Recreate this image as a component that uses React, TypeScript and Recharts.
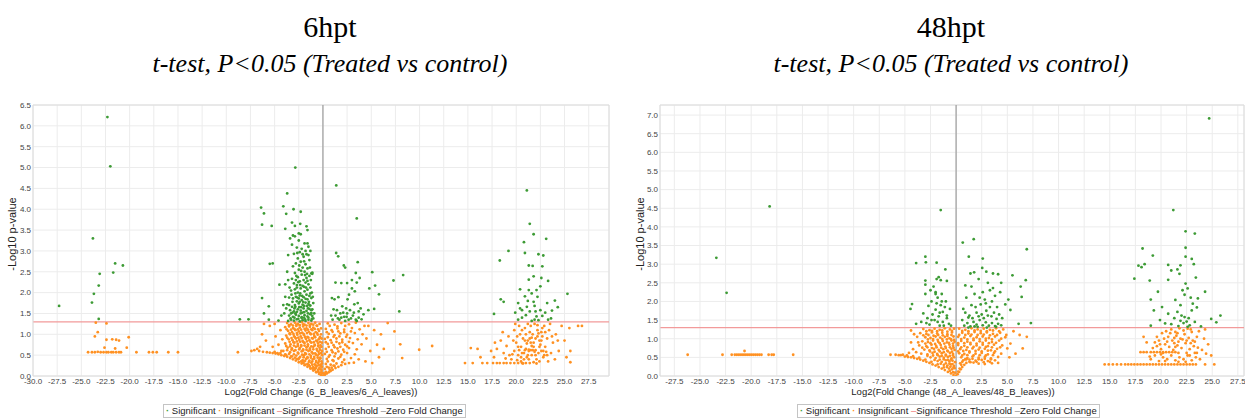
import React from 'react';
import { ScatterChart, Scatter, XAxis, YAxis, CartesianGrid, ReferenceLine } from 'recharts';

type Pt = [number, number];

// ---------- 6hpt ----------
const sig6Neg: Pt[] = [
  [-27.3, 1.68], [-23.8, 3.3], [-23.9, 1.76], [-23.7, 1.97], [-23.2, 2.17], [-23.1, 2.45], [-23.2, 1.37],
  [-22.3, 6.21], [-22.0, 5.03], [-21.7, 2.48], [-21.5, 2.7], [-20.7, 2.65],
];

const sig6Core: Pt[] = [
  [-2.86, 5.0], [-3.7, 4.38], [-6.4, 4.04], [-6.1, 3.9], [-4.1, 4.07], [-3.8, 3.89], [-3.04, 4.0], [-2.3, 3.94],
  [-6.3, 3.63], [-5.3, 3.6], [-3.9, 3.53], [-3.2, 3.68], [-2.9, 3.6], [-2.35, 3.65], [-1.7, 3.59], [-3.1, 3.37],
  [-2.5, 3.42], [-5.5, 2.69], [-5.2, 2.7], [-6.3, 1.87], [-5.6, 1.67], [-6.1, 1.5], [-4.5, 2.19], [-8.6, 1.36],
  [-7.7, 1.36], [-5.6, 1.35], [-4.6, 1.33], [-1.1, 2.48], [-1.6, 3.18],
  [-3.6, 1.32], [-3.3, 1.35], [-3.0, 1.33], [-2.7, 1.36], [-2.4, 1.31], [-2.1, 1.34], [-1.8, 1.32], [-1.5, 1.35],
  [-1.2, 1.33], [-1.0, 1.38], [-3.5, 1.45], [-3.1, 1.42], [-2.8, 1.47], [-2.5, 1.44], [-2.2, 1.41], [-1.9, 1.46],
  [-1.6, 1.43], [-1.3, 1.48], [-1.1, 1.44], [-4.0, 1.5], [-3.8, 1.62], [-3.4, 1.58], [-3.0, 1.55], [-2.6, 1.6],
  [-2.3, 1.57], [-2.0, 1.62], [-1.7, 1.56], [-1.4, 1.61], [-1.2, 1.58], [-3.2, 1.66], [-3.7, 1.72], [-2.9, 1.7],
  [-2.5, 1.74], [-2.1, 1.71], [-1.8, 1.76], [-1.5, 1.73], [-1.3, 1.69], [-2.7, 1.79], [-2.2, 1.82], [-1.6, 1.84],
  [-3.5, 1.88], [-3.1, 1.86], [-2.8, 1.9], [-2.4, 1.93], [-2.0, 1.89], [-1.7, 1.95], [-1.4, 1.92], [-1.2, 1.87],
  [-2.6, 2.0], [-1.9, 2.03], [-3.3, 2.05], [-2.9, 2.08], [-2.3, 2.1], [-1.6, 2.07], [-1.3, 2.12], [-2.1, 2.16],
  [-2.7, 2.18], [-3.0, 2.22], [-1.8, 2.24], [-1.5, 2.2], [-2.4, 2.27], [-2.0, 2.3], [-3.2, 2.33], [-2.6, 2.37],
  [-1.7, 2.35], [-1.4, 2.4], [-2.2, 2.43], [-2.9, 2.47], [-1.9, 2.5], [-1.2, 2.46], [-2.5, 2.55], [-2.1, 2.6],
  [-3.1, 2.63], [-1.6, 2.58], [-2.8, 2.7], [-2.3, 2.74], [-1.8, 2.68], [-1.4, 2.78], [-2.6, 2.82], [-2.0, 2.86],
  [-3.0, 2.93], [-2.4, 2.97], [-1.7, 2.92], [-2.2, 3.05], [-1.5, 3.1], [-2.7, 3.08], [-3.2, 3.15], [-1.9, 3.18],
  [-2.5, 3.25], [-2.9, 3.35], [-2.3, 3.4], [-1.6, 3.5], [-3.4, 3.3], [-3.6, 2.9], [-3.7, 2.5], [-3.9, 2.2],
  [-4.1, 1.7], [-4.3, 1.45], [-3.9, 1.9], [-3.6, 2.3], [-1.1, 1.6], [-1.0, 1.75], [-1.15, 2.0], [-1.05, 1.9],
  [-0.9, 1.5], [-1.25, 2.3], [-1.35, 2.6], [-1.1, 2.45], [-1.5, 2.9], [-1.3, 3.0], [-2.45, 1.65], [-2.85, 1.5],
  [-2.15, 1.52], [-1.95, 1.4], [-2.65, 1.88], [-2.35, 1.98], [-2.05, 1.78], [-1.75, 2.12], [-1.45, 1.78],
  [-2.75, 2.4], [-3.15, 1.78], [-3.45, 2.12], [-2.55, 2.25], [-1.85, 2.42], [-1.25, 1.5], [-1.55, 1.5],
  [-2.95, 1.62], [-3.3, 1.5], [-2.25, 1.65], [-1.65, 1.68],
  [-3.35, 1.38], [-2.95, 1.4], [-2.55, 1.37], [-2.2, 1.39], [-1.85, 1.36], [-1.5, 1.4], [-1.15, 1.37],
  [-3.15, 1.52], [-2.7, 1.54], [-2.3, 1.5], [-1.95, 1.53], [-1.55, 1.62], [-1.2, 1.51], [-3.5, 1.7],
  [-2.85, 1.66], [-2.4, 1.78], [-1.95, 1.68], [-1.4, 1.7], [-3.25, 1.95], [-2.85, 1.98], [-2.5, 1.86],
  [-2.15, 1.92], [-1.8, 1.85], [-1.3, 1.98], [-2.7, 2.12], [-2.35, 2.18], [-1.95, 2.14], [-1.6, 2.28],
  [-2.8, 2.3], [-2.25, 2.52], [-1.65, 2.45], [-2.45, 2.65], [-1.95, 2.75], [-2.65, 2.95], [-2.1, 2.92], [-1.8, 3.0],
];

const sig6Pos: Pt[] = [
  [1.38, 4.57], [3.5, 3.78], [1.37, 2.95], [1.58, 2.87], [2.16, 2.65], [2.3, 2.6], [3.6, 2.73], [5.1, 2.49],
  [3.4, 2.47], [3.8, 2.35], [3.5, 2.24], [7.3, 2.29], [8.3, 2.42], [1.3, 2.24], [1.9, 2.23], [2.5, 2.23],
  [3.0, 2.3], [5.4, 2.17], [4.8, 2.1], [5.8, 1.96], [0.93, 1.87], [1.2, 1.84], [1.6, 1.89], [2.55, 1.84],
  [3.3, 2.03], [3.6, 1.75], [2.0, 1.67], [2.4, 1.62], [2.8, 1.58], [3.2, 1.52], [3.7, 1.55], [4.7, 1.58],
  [5.3, 1.61], [7.9, 1.55], [1.45, 1.58], [1.8, 1.5], [2.2, 1.42], [2.66, 1.35], [1.0, 1.35], [1.3, 1.45],
  [1.9, 1.4], [2.5, 1.5], [2.9, 1.38], [3.1, 1.45], [3.4, 1.35], [3.7, 1.4], [1.1, 1.6], [3.9, 1.62],
  [1.7, 1.35], [2.3, 1.32], [3.5, 1.32], [4.2, 1.48], [2.7, 1.95], [3.0, 2.1], [2.1, 1.52], [2.45, 1.42],
  [1.55, 1.38], [3.25, 1.72], [0.85, 1.45], [4.0, 1.36],
];

const sig6High: Pt[] = [
  [21.1, 4.45], [21.4, 3.65], [21.8, 3.4], [23.1, 3.29], [20.8, 3.21], [19.2, 3.0], [18.3, 2.77], [20.9, 2.95],
  [22.3, 2.92], [22.8, 2.89], [21.3, 2.65], [21.7, 2.64], [22.7, 2.63], [21.8, 2.39], [21.3, 2.31], [22.6, 2.35],
  [23.3, 2.28], [20.4, 2.08], [22.5, 2.15], [25.3, 1.97], [18.4, 1.84], [18.7, 1.78], [17.7, 1.49], [20.2, 1.75],
  [20.6, 1.58], [21.8, 1.78], [22.2, 1.9], [23.2, 1.75], [23.7, 1.57], [24.3, 1.65], [24.0, 1.81], [19.9, 1.52],
  [21.4, 1.55], [22.1, 1.43], [21.9, 1.35], [22.3, 1.34], [20.2, 1.35], [23.3, 1.35], [21.1, 1.66], [21.6, 1.98],
  [22.1, 2.06], [21.3, 2.06], [20.9, 1.91], [22.5, 1.58], [21.9, 1.68], [20.6, 1.4], [21.0, 1.46], [22.7, 1.44],
  [23.0, 1.52], [21.6, 1.32], [22.0, 1.55], [23.6, 1.38], [20.4, 1.62], [21.2, 1.8],
];

const ins6Neg: Pt[] = [
  [-23.5, 1.28], [-22.4, 1.26], [-23.3, 1.05], [-23.6, 0.95], [-22.4, 0.87], [-21.8, 0.88], [-21.4, 0.87],
  [-21.1, 0.85], [-20.1, 0.93], [-21.5, 0.66], [-20.3, 0.68], [-22.6, 0.68],
  [-24.3, 0.57], [-23.9, 0.57], [-23.6, 0.57], [-23.3, 0.58], [-23.0, 0.57], [-22.7, 0.57], [-22.4, 0.57],
  [-22.2, 0.57], [-21.9, 0.57], [-21.7, 0.57], [-21.4, 0.57], [-21.1, 0.57], [-20.9, 0.57], [-19.3, 0.57],
  [-18.0, 0.57], [-17.6, 0.57], [-17.2, 0.57], [-16.0, 0.57], [-15.0, 0.57], [-8.8, 0.57],
];

const ins6Env: Pt[] = [
  [-7.4, 0.6], [-7.1, 0.62], [-6.6, 0.6], [-6.2, 0.58], [-5.8, 0.57], [-5.5, 0.56], [-5.2, 0.55], [-4.9, 0.54],
  [-4.6, 0.52], [-4.3, 0.5], [-4.0, 0.48], [-3.7, 0.46], [-3.4, 0.43], [-3.1, 0.4], [-2.8, 0.37], [-2.5, 0.33],
  [-2.2, 0.3], [-1.9, 0.26], [-1.6, 0.22], [-1.3, 0.18], [-1.0, 0.13], [-0.7, 0.09], [-0.4, 0.05], [-0.2, 0.02],
  [0, 0], [0.2, 0.03], [0.4, 0.06], [0.6, 0.09], [0.8, 0.12], [1.0, 0.15], [1.3, 0.19], [1.6, 0.22], [1.9, 0.26],
  [2.3, 0.29], [2.7, 0.31], [3.2, 0.32], [-5.0, 0.58], [-4.4, 0.55], [-3.9, 0.52], [-3.3, 0.47], [-2.7, 0.41],
  [-2.1, 0.34], [-1.5, 0.27], [-0.9, 0.18], [-0.5, 0.1], [0.3, 0.08], [0.7, 0.15], [1.2, 0.24],
];

const ins6CoreNeg: Pt[] = [
  [-3.7, 1.27], [-3.3, 1.24], [-2.9, 1.28], [-2.6, 1.25], [-2.2, 1.29], [-1.9, 1.23], [-1.5, 1.27], [-1.2, 1.25],
  [-0.8, 1.28], [-3.9, 1.17], [-3.5, 1.19], [-3.1, 1.15], [-2.75, 1.2], [-2.4, 1.16], [-2.05, 1.19], [-1.7, 1.14],
  [-1.35, 1.18], [-1.0, 1.16], [-0.6, 1.2], [-3.6, 1.08], [-3.2, 1.05], [-2.85, 1.1], [-2.5, 1.07], [-2.15, 1.04],
  [-1.8, 1.09], [-1.45, 1.06], [-1.1, 1.1], [-0.75, 1.05], [-0.4, 1.08], [-3.8, 0.97], [-3.4, 1.0], [-3.0, 0.96],
  [-2.65, 0.99], [-2.3, 0.95], [-1.95, 0.98], [-1.6, 0.94], [-1.25, 1.0], [-0.9, 0.96], [-0.55, 0.99], [-0.3, 0.94],
  [-3.55, 0.88], [-3.15, 0.86], [-2.8, 0.9], [-2.45, 0.87], [-2.1, 0.84], [-1.75, 0.89], [-1.4, 0.86], [-1.05, 0.9],
  [-0.7, 0.85], [-0.45, 0.88], [-3.9, 0.78], [-3.35, 0.76], [-2.95, 0.8], [-2.6, 0.77], [-2.25, 0.74], [-1.9, 0.79],
  [-1.55, 0.76], [-1.2, 0.8], [-0.85, 0.75], [-0.5, 0.78], [-0.25, 0.74], [-3.65, 0.68], [-3.2, 0.66], [-2.8, 0.7],
  [-2.4, 0.67], [-2.05, 0.64], [-1.7, 0.69], [-1.35, 0.66], [-1.0, 0.7], [-0.65, 0.65], [-0.35, 0.68], [-4.1, 0.6],
  [-3.4, 0.57], [-3.0, 0.6], [-2.6, 0.56], [-2.2, 0.59], [-1.85, 0.55], [-1.5, 0.6], [-1.15, 0.57], [-0.8, 0.54],
  [-0.45, 0.58], [-0.2, 0.55], [-3.8, 0.5], [-3.2, 0.47], [-2.75, 0.49], [-2.35, 0.46], [-1.95, 0.5], [-1.6, 0.45],
  [-1.25, 0.48], [-0.9, 0.46], [-0.55, 0.49], [-0.3, 0.44], [-2.55, 0.4], [-2.1, 0.38], [-1.75, 0.41], [-1.4, 0.37],
  [-1.05, 0.4], [-0.7, 0.36], [-0.4, 0.39], [-0.15, 0.35], [-2.0, 0.31], [-1.6, 0.29], [-1.2, 0.32], [-0.85, 0.28],
  [-0.5, 0.31], [-0.25, 0.27], [-1.35, 0.23], [-1.0, 0.21], [-0.65, 0.24], [-0.35, 0.2], [-0.1, 0.22], [-0.85, 0.15],
  [-0.5, 0.14], [-0.2, 0.16], [-0.3, 0.08], [-0.1, 0.07],
  [-4.4, 1.1], [-4.6, 0.75], [-4.9, 0.95], [-5.2, 0.7], [-5.5, 1.2], [-5.9, 0.85], [-6.3, 1.0], [-6.8, 0.65],
  [-6.5, 0.7], [-4.3, 0.6], [-5.0, 1.25], [-6.1, 1.25], [-4.7, 0.55], [-4.2, 0.88],
];

const ins6Dense: Pt[] = [
  [-3.5, 1.22], [-3.1, 1.21], [-2.75, 1.23], [-2.4, 1.22], [-2.05, 1.24], [-1.7, 1.21], [-1.35, 1.22], [-1.0, 1.23],
  [-0.65, 1.21], [-0.35, 1.25], [-3.75, 1.12], [-3.3, 1.11], [-2.95, 1.13], [-2.6, 1.12], [-2.25, 1.11], [-1.9, 1.13],
  [-1.55, 1.11], [-1.2, 1.12], [-0.85, 1.13], [-0.5, 1.12], [-0.2, 1.14], [-3.45, 1.02], [-3.05, 1.01], [-2.7, 1.03],
  [-2.35, 1.02], [-2.0, 1.01], [-1.65, 1.03], [-1.3, 1.02], [-0.95, 1.01], [-0.6, 1.03], [-0.2, 1.0], [-3.7, 0.92],
  [-3.25, 0.91], [-2.9, 0.93], [-2.55, 0.92], [-2.2, 0.91], [-1.85, 0.93], [-1.5, 0.92], [-1.15, 0.91], [-0.8, 0.93],
  [-0.35, 0.91], [-0.15, 0.9], [-3.45, 0.82], [-3.05, 0.81], [-2.7, 0.83], [-2.35, 0.82], [-2.0, 0.81], [-1.65, 0.83],
  [-1.3, 0.82], [-0.95, 0.81], [-0.6, 0.83], [-0.3, 0.82], [-0.1, 0.8], [-3.8, 0.72], [-3.4, 0.71], [-3.0, 0.73],
  [-2.6, 0.72], [-2.25, 0.71], [-1.9, 0.73], [-1.55, 0.72], [-1.2, 0.71], [-0.85, 0.73], [-0.5, 0.72], [-0.15, 0.7],
  [-3.7, 0.62], [-3.25, 0.63], [-2.85, 0.62], [-2.45, 0.64], [-2.05, 0.61], [-1.7, 0.63], [-1.35, 0.62], [-1.0, 0.64],
  [-0.6, 0.61], [-0.3, 0.63], [-0.1, 0.6], [-3.5, 0.53], [-3.0, 0.52], [-2.55, 0.54], [-2.15, 0.51], [-1.75, 0.53],
  [-1.4, 0.52], [-1.05, 0.54], [-0.7, 0.51], [-0.4, 0.53], [-0.1, 0.5], [-2.9, 0.44], [-2.45, 0.43], [-2.0, 0.45],
  [-1.6, 0.43], [-1.25, 0.44], [-0.9, 0.42], [-0.55, 0.44], [-0.25, 0.42], [-2.25, 0.35], [-1.85, 0.36], [-1.45, 0.34],
  [-1.1, 0.35], [-0.7, 0.33], [-0.4, 0.35], [-0.1, 0.3], [-1.8, 0.27], [-1.45, 0.26], [-1.1, 0.27], [-0.75, 0.25],
  [-0.45, 0.26], [-0.2, 0.24], [-1.1, 0.18], [-0.7, 0.19], [-0.4, 0.17], [-0.15, 0.12],
  [0.7, 1.2], [1.5, 1.19], [2.3, 1.2], [0.4, 1.05], [1.0, 1.06], [1.6, 1.07], [2.2, 1.05], [2.9, 1.07],
  [0.5, 0.93], [1.1, 0.94], [1.7, 0.95], [2.4, 0.94], [0.3, 0.81], [0.9, 0.8], [1.4, 0.82], [2.0, 0.81],
  [2.7, 0.82], [0.6, 0.7], [1.2, 0.69], [1.8, 0.7], [2.5, 0.71], [0.4, 0.58], [1.0, 0.57], [1.6, 0.59],
  [2.2, 0.58], [0.6, 0.46], [1.2, 0.47], [1.8, 0.46], [0.5, 0.35], [1.1, 0.36], [0.4, 0.22], [0.9, 0.2],
];

const ins6CorePos: Pt[] = [
  [0.5, 1.26], [1.2, 1.23], [1.9, 1.27], [2.7, 1.24], [3.4, 1.28], [0.3, 1.13], [0.9, 1.1], [1.5, 1.14],
  [2.2, 1.11], [3.0, 1.15], [3.8, 1.12], [0.6, 1.01], [1.2, 0.98], [1.8, 1.02], [2.5, 0.99], [3.3, 1.03],
  [4.1, 1.0], [0.2, 0.89], [0.8, 0.86], [1.4, 0.9], [2.0, 0.87], [2.8, 0.91], [3.6, 0.88], [0.5, 0.77],
  [1.1, 0.74], [1.7, 0.78], [2.3, 0.75], [3.1, 0.79], [4.0, 0.76], [0.3, 0.65], [0.9, 0.62], [1.5, 0.66],
  [2.1, 0.63], [2.7, 0.67], [3.5, 0.64], [0.2, 0.53], [0.7, 0.5], [1.3, 0.54], [1.9, 0.51], [2.5, 0.55],
  [3.3, 0.52], [0.4, 0.41], [1.0, 0.38], [1.6, 0.42], [2.2, 0.39], [2.9, 0.43], [0.3, 0.29], [0.8, 0.27],
  [1.4, 0.3], [2.0, 0.33], [0.2, 0.17], [0.6, 0.2], [1.1, 0.25], [0.1, 0.06], [0.3, 0.1],
  [4.5, 0.9], [4.9, 0.6], [5.3, 1.1], [5.6, 0.75], [6.0, 1.0], [4.3, 1.2], [5.1, 0.31], [6.7, 1.27],
  [7.4, 1.07], [8.0, 0.76], [8.2, 0.43], [9.96, 0.63], [11.3, 0.72], [6.3, 0.65], [4.7, 1.2], [3.7, 0.4],
  [4.4, 0.35], [5.8, 0.45],
];

const ins6High: Pt[] = [
  [14.7, 0.31], [15.5, 0.31], [16.5, 0.31], [17.0, 0.31], [17.6, 0.31], [18.0, 0.31], [18.3, 0.31], [18.7, 0.31],
  [19.0, 0.31], [19.4, 0.31], [19.8, 0.31], [20.2, 0.31], [20.6, 0.31], [21.0, 0.31], [21.4, 0.31], [23.3, 0.35],
  [25.6, 0.33], [15.3, 0.67], [16.0, 0.65], [17.4, 0.6], [18.0, 0.65], [17.8, 0.8], [18.4, 0.85], [19.0, 0.72],
  [19.2, 0.95], [18.6, 1.05], [19.8, 1.1], [20.2, 0.5], [20.5, 0.7], [20.7, 0.9], [20.9, 1.15], [21.1, 0.45],
  [21.3, 0.6], [21.5, 0.8], [21.7, 1.0], [21.9, 1.25], [22.1, 0.4], [22.3, 0.55], [22.5, 0.75], [22.7, 0.95],
  [22.9, 1.2], [20.4, 1.0], [20.6, 0.55], [20.8, 0.4], [21.0, 0.65], [21.2, 0.85], [21.4, 1.05], [21.6, 0.5],
  [21.8, 0.7], [22.0, 0.9], [22.2, 1.1], [22.4, 0.35], [22.6, 0.6], [22.8, 0.45], [23.0, 0.7], [23.2, 0.9],
  [23.4, 1.1], [23.6, 0.55], [23.8, 0.8], [24.1, 1.0], [24.4, 0.6], [24.7, 1.2], [25.0, 0.85], [25.2, 0.45],
  [25.5, 1.15], [26.4, 1.2], [26.8, 1.2], [19.5, 0.4], [19.8, 0.6], [20.0, 0.8], [20.3, 1.2], [21.7, 0.62],
  [22.0, 0.62], [21.3, 0.63], [21.5, 0.62], [20.9, 0.62], [23.5, 1.25], [24.0, 0.4], [25.6, 0.6], [21.2, 1.25],
  [22.2, 1.22], [20.1, 0.38], [20.5, 0.45], [22.9, 0.5], [19.3, 0.5], [18.7, 0.55], [17.7, 0.45], [16.3, 0.45],
  [20.7, 0.3], [21.8, 0.33], [22.4, 0.85], [21.1, 0.78], [20.3, 0.62], [23.1, 0.58], [21.6, 0.92], [22.6, 1.05],
  [19.7, 0.85], [20.1, 0.95], [20.6, 1.1], [21.0, 1.0], [21.4, 0.9], [21.8, 0.8], [22.2, 0.95], [22.6, 0.85],
  [23.0, 1.05], [20.2, 0.7], [20.8, 0.55], [21.2, 0.5], [21.6, 0.72], [22.0, 0.5], [22.4, 0.7], [22.8, 0.6],
  [23.2, 0.5], [20.5, 0.35], [21.3, 0.4], [22.1, 0.3], [19.9, 1.25], [21.5, 1.2], [22.7, 1.15], [23.7, 0.95],
  [24.3, 0.85], [18.9, 0.42], [19.6, 0.52], [21.9, 0.58], [20.9, 0.85], [22.3, 1.02],
];

// ---------- 48hpt ----------
const sig48Neg: Pt[] = [[-23.4, 3.17], [-22.4, 2.23], [-18.2, 4.55]];

const sig48Core: Pt[] = [
  [-1.5, 4.45], [-3.9, 3.03], [-3.0, 3.2], [-2.95, 3.05], [-1.9, 3.04], [-3.0, 2.56], [-3.0, 2.45], [-1.9, 2.6],
  [-1.7, 2.65], [-3.0, 2.2], [-2.0, 2.2], [-1.8, 2.1], [-4.3, 1.93], [-4.45, 1.8], [-2.7, 1.88], [-2.4, 2.0],
  [-1.9, 1.95], [-2.4, 1.5], [-2.1, 1.5], [-3.9, 1.4], [-3.4, 1.45], [-1.7, 1.6], [-1.6, 1.7], [-1.05, 2.86],
  [-1.5, 2.57], [-0.9, 2.55], [-2.0, 2.25], [-1.4, 2.2], [-1.4, 2.0], [-1.0, 2.0], [-1.3, 1.72], [-0.9, 1.62],
  [-1.8, 1.45], [-1.3, 1.45], [-0.9, 1.55], [-2.6, 1.38], [-2.3, 1.65], [-2.0, 1.78], [-1.2, 1.35], [-0.7, 1.4],
  [-1.6, 1.35], [-2.8, 1.55], [-3.2, 1.68], [-1.1, 1.85], [-0.6, 1.8], [-2.2, 2.4], [-2.5, 2.3], [-1.5, 1.9],
  [-2.9, 1.42], [-0.5, 1.35],
];

const sig48Pos: Pt[] = [
  [0.65, 3.58], [1.72, 3.67], [1.24, 3.2], [6.9, 3.4], [2.6, 3.15], [1.76, 2.78], [2.55, 2.9], [2.95, 2.8],
  [3.6, 2.75], [4.1, 2.73], [5.5, 2.7], [6.8, 2.57], [0.9, 2.43], [1.5, 2.4], [3.3, 2.3], [3.6, 2.36],
  [4.4, 2.5], [6.3, 2.4], [6.4, 2.12], [5.1, 2.05], [5.3, 1.77], [1.8, 2.2], [2.3, 2.1], [2.8, 2.05],
  [3.8, 2.15], [1.0, 2.1], [4.8, 1.92], [6.1, 1.4], [7.3, 1.42], [2.0, 1.7], [2.5, 1.65], [2.95, 1.75],
  [3.45, 1.6], [3.95, 1.53], [1.2, 1.57], [0.6, 1.5], [0.8, 1.35], [1.1, 1.42], [1.4, 1.33], [1.7, 1.45],
  [2.0, 1.38], [2.3, 1.5], [2.6, 1.36], [2.9, 1.44], [3.2, 1.35], [3.5, 1.42], [3.8, 1.34], [4.1, 1.4],
  [4.4, 1.36], [1.3, 1.62], [1.6, 1.55], [1.9, 1.85], [2.2, 1.6], [2.7, 1.55], [3.1, 1.62], [3.3, 1.85],
  [3.7, 1.7], [4.2, 1.65], [0.9, 1.7], [1.5, 1.9], [2.4, 1.92], [2.9, 1.95], [3.5, 2.0], [4.0, 1.85],
  [4.5, 1.55], [1.2, 1.3], [2.1, 1.32], [3.0, 1.3], [0.7, 1.8], [2.6, 2.25], [3.1, 2.5], [2.2, 2.6],
  [1.4, 2.75], [4.3, 2.25], [3.9, 1.32], [1.8, 1.33],
];

const sig48High: Pt[] = [
  [24.7, 6.91], [21.2, 4.45], [22.4, 3.88], [23.3, 3.82], [22.4, 3.44], [18.2, 3.42], [19.2, 3.23], [17.8, 2.96],
  [18.1, 2.92], [18.4, 3.0], [17.4, 2.61], [18.9, 2.56], [20.7, 2.98], [21.0, 2.83], [21.6, 2.86], [21.9, 2.97],
  [22.4, 3.2], [23.0, 3.14], [23.2, 3.0], [23.4, 2.64], [21.8, 2.74], [20.7, 2.58], [22.4, 2.48], [22.6, 2.35],
  [22.1, 2.3], [19.7, 2.26], [24.3, 2.26], [19.0, 2.05], [21.4, 2.04], [21.9, 1.9], [23.1, 1.94], [23.6, 2.08],
  [19.3, 1.76], [20.1, 1.85], [20.7, 1.67], [21.6, 1.72], [22.3, 1.58], [23.0, 1.76], [23.5, 1.84], [24.9, 1.53],
  [25.4, 1.44], [25.8, 1.62], [19.0, 1.35], [20.4, 1.41], [21.0, 1.39], [21.9, 1.48], [22.2, 1.42], [22.5, 1.46],
  [22.8, 1.36], [23.9, 1.33], [19.9, 1.5], [21.7, 1.34], [22.7, 1.55], [22.0, 1.62], [22.9, 2.1], [22.3, 2.18],
  [21.3, 1.55], [23.3, 1.45], [22.6, 1.32],
];

const ins48Neg: Pt[] = [
  [-26.2, 0.57], [-22.8, 0.57], [-21.9, 0.57], [-21.6, 0.57], [-21.4, 0.57], [-21.2, 0.57], [-21.0, 0.57],
  [-20.8, 0.57], [-20.6, 0.57], [-20.4, 0.57], [-20.2, 0.57], [-20.0, 0.57], [-19.8, 0.57], [-19.6, 0.57],
  [-19.4, 0.57], [-19.2, 0.57], [-19.0, 0.57], [-18.3, 0.57], [-18.0, 0.57], [-17.8, 0.57], [-15.9, 0.57],
  [-20.65, 0.67],
];

const ins48Env: Pt[] = [
  [-6.4, 0.57], [-5.9, 0.57], [-5.6, 0.56], [-5.4, 0.56], [-5.2, 0.57], [-5.0, 0.52], [-4.7, 0.51], [-4.4, 0.5],
  [-4.1, 0.48], [-3.8, 0.46], [-3.5, 0.44], [-3.2, 0.41], [-2.9, 0.38], [-2.6, 0.35], [-2.3, 0.31], [-2.0, 0.28],
  [-1.7, 0.24], [-1.4, 0.2], [-1.1, 0.16], [-0.8, 0.11], [-0.5, 0.07], [-0.25, 0.03], [0, 0], [0.15, 0.05],
  [0.3, 0.11], [0.45, 0.18], [0.6, 0.24], [0.8, 0.3], [1.0, 0.35], [1.3, 0.38], [1.7, 0.36], [2.2, 0.33],
  [2.8, 0.32], [3.5, 0.34], [4.1, 0.35], [-4.8, 0.55], [-4.2, 0.53], [-3.6, 0.49], [-3.0, 0.44], [-2.4, 0.38],
  [-1.8, 0.31], [-1.2, 0.23], [-0.6, 0.14], [0.2, 0.12], [0.5, 0.3], [0.9, 0.45],
];

const ins48CoreNeg: Pt[] = [
  [-3.2, 1.26], [-2.6, 1.23], [-2.1, 1.27], [-1.6, 1.24], [-1.1, 1.28], [-0.6, 1.25], [-0.2, 1.27],
  [-3.5, 1.15], [-2.9, 1.13], [-2.35, 1.17], [-1.85, 1.14], [-1.35, 1.16], [-0.85, 1.12], [-0.4, 1.17],
  [-3.0, 1.04], [-2.5, 1.02], [-2.0, 1.06], [-1.55, 1.03], [-1.1, 1.05], [-0.65, 1.01], [-0.25, 1.06],
  [-3.3, 0.93], [-2.75, 0.91], [-2.25, 0.95], [-1.75, 0.92], [-1.3, 0.94], [-0.9, 0.9], [-0.45, 0.95], [-0.15, 0.92],
  [-3.6, 0.82], [-2.9, 0.8], [-2.4, 0.84], [-1.95, 0.81], [-1.5, 0.83], [-1.05, 0.79], [-0.65, 0.84], [-0.3, 0.81],
  [-3.1, 0.71], [-2.6, 0.69], [-2.15, 0.73], [-1.7, 0.7], [-1.25, 0.72], [-0.85, 0.68], [-0.45, 0.73], [-0.15, 0.7],
  [-3.4, 0.6], [-2.8, 0.58], [-2.3, 0.62], [-1.85, 0.59], [-1.4, 0.61], [-1.0, 0.57], [-0.6, 0.62], [-0.3, 0.59],
  [-2.5, 0.5], [-2.0, 0.48], [-1.6, 0.52], [-1.2, 0.49], [-0.8, 0.51], [-0.45, 0.47], [-0.2, 0.5],
  [-1.8, 0.4], [-1.4, 0.38], [-1.0, 0.42], [-0.65, 0.39], [-0.35, 0.41], [-0.1, 0.37],
  [-1.2, 0.3], [-0.85, 0.28], [-0.5, 0.31], [-0.2, 0.27], [-0.7, 0.2], [-0.4, 0.18], [-0.15, 0.21],
  [-0.3, 0.1], [-0.1, 0.09],
  [-4.4, 1.22], [-4.1, 1.12], [-3.8, 1.05], [-4.2, 0.72], [-3.9, 0.64], [-4.6, 0.62], [-4.4, 0.9], [-3.7, 0.9],
];

const ins48Dense: Pt[] = [
  [-2.9, 1.2], [-2.35, 1.21], [-1.85, 1.2], [-1.35, 1.22], [-0.85, 1.19], [-0.4, 1.21], [-3.2, 1.09], [-2.7, 1.1],
  [-2.2, 1.08], [-1.75, 1.1], [-1.3, 1.09], [-0.85, 1.07], [-0.45, 1.1], [-2.75, 0.98], [-2.25, 0.99], [-1.8, 0.97],
  [-1.35, 0.99], [-0.9, 0.98], [-0.5, 0.99], [-0.2, 0.97], [-3.0, 0.87], [-2.5, 0.88], [-2.05, 0.86], [-1.6, 0.88],
  [-1.15, 0.87], [-0.7, 0.89], [-0.3, 0.87], [-3.3, 0.76], [-2.8, 0.77], [-2.35, 0.75], [-1.9, 0.77], [-1.45, 0.76],
  [-1.0, 0.75], [-0.6, 0.77], [-0.25, 0.76], [-2.55, 0.66], [-2.1, 0.65], [-1.6, 0.66], [-1.2, 0.64], [-0.8, 0.66],
  [-0.4, 0.65], [-2.8, 0.54], [-2.25, 0.55], [-1.8, 0.56], [-1.4, 0.54], [-1.0, 0.55], [-0.6, 0.54], [-0.3, 0.55],
  [-2.1, 0.43], [-1.6, 0.44], [-1.2, 0.45], [-0.8, 0.43], [-0.5, 0.44], [-1.5, 0.33], [-1.0, 0.34], [-0.65, 0.33],
  [-0.35, 0.32], [-0.9, 0.24], [-0.55, 0.25], [-0.25, 0.23],
  [0.6, 1.21], [1.2, 1.2], [1.8, 1.22], [2.4, 1.21], [3.0, 1.2], [3.6, 1.22], [4.2, 1.2], [0.3, 1.1],
  [0.9, 1.1], [1.5, 1.11], [2.1, 1.1], [2.7, 1.11], [3.3, 1.09], [4.0, 1.1], [0.5, 0.99], [1.1, 0.98],
  [1.7, 1.0], [2.3, 0.99], [2.9, 1.0], [3.5, 0.98], [4.4, 1.0], [0.2, 0.88], [0.8, 0.88], [1.4, 0.89],
  [2.0, 0.87], [2.6, 0.89], [3.2, 0.88], [3.9, 0.89], [0.5, 0.77], [1.1, 0.77], [1.7, 0.78], [2.3, 0.76],
  [2.9, 0.78], [3.5, 0.77], [4.3, 0.77], [0.2, 0.66], [0.7, 0.67], [1.3, 0.66], [1.9, 0.67], [2.5, 0.66],
  [3.1, 0.68], [3.8, 0.66], [0.6, 0.55], [1.1, 0.56], [1.7, 0.55], [2.3, 0.56], [2.9, 0.55], [3.6, 0.56],
  [1.0, 0.45], [1.6, 0.46], [2.2, 0.45], [2.8, 0.46], [3.4, 0.45], [1.4, 0.37], [2.0, 0.38], [2.7, 0.37],
  [3.3, 0.38], [0.6, 0.38], [0.35, 0.2],
];

const ins48CorePos: Pt[] = [
  [0.3, 1.27], [0.9, 1.24], [1.5, 1.28], [2.1, 1.25], [2.7, 1.27], [3.3, 1.24], [3.9, 1.28], [4.6, 1.25],
  [0.6, 1.16], [1.2, 1.14], [1.8, 1.18], [2.4, 1.15], [3.0, 1.17], [3.6, 1.13], [4.3, 1.16],
  [0.2, 1.05], [0.8, 1.03], [1.4, 1.07], [2.0, 1.04], [2.6, 1.06], [3.2, 1.02], [3.8, 1.06], [4.8, 1.04],
  [0.5, 0.94], [1.1, 0.92], [1.7, 0.96], [2.3, 0.93], [2.9, 0.95], [3.5, 0.91], [4.2, 0.95],
  [0.2, 0.83], [0.8, 0.81], [1.4, 0.85], [2.0, 0.82], [2.6, 0.84], [3.1, 0.8], [3.7, 0.84], [4.5, 0.82],
  [0.4, 0.72], [1.0, 0.7], [1.6, 0.74], [2.2, 0.71], [2.8, 0.73], [3.4, 0.69], [4.0, 0.73],
  [0.3, 0.61], [0.8, 0.59], [1.3, 0.63], [1.9, 0.6], [2.5, 0.62], [3.1, 0.58], [3.7, 0.62], [4.4, 0.6],
  [0.5, 0.5], [1.1, 0.48], [1.6, 0.52], [2.2, 0.49], [2.8, 0.51], [3.4, 0.47], [4.1, 0.51],
  [0.7, 0.42], [1.3, 0.44], [1.9, 0.41], [2.5, 0.43], [3.1, 0.4], [3.8, 0.42], [0.4, 0.34],
  [5.0, 0.74], [5.3, 0.87], [6.2, 1.1], [6.9, 1.05], [6.5, 0.74], [5.6, 1.2], [5.2, 0.5], [4.9, 1.1], [5.8, 0.6],
];

const ins48High: Pt[] = [
  [14.5, 0.31], [14.9, 0.31], [15.3, 0.31], [15.7, 0.31], [16.1, 0.31], [16.5, 0.31], [16.8, 0.31], [17.1, 0.31],
  [17.4, 0.31], [17.7, 0.31], [18.0, 0.31], [18.3, 0.31], [18.6, 0.31], [18.9, 0.31], [19.2, 0.31], [19.5, 0.31],
  [19.8, 0.31], [20.1, 0.31], [20.4, 0.31], [20.7, 0.31], [21.0, 0.31], [21.3, 0.31], [21.6, 0.31], [21.9, 0.31],
  [22.2, 0.31], [22.5, 0.31], [22.8, 0.31], [23.1, 0.31], [23.4, 0.31], [24.3, 0.31], [25.2, 0.31],
  [18.0, 0.64], [18.3, 0.64], [18.6, 0.64], [19.0, 0.64], [19.3, 0.64], [19.6, 0.64], [19.9, 0.64], [20.2, 0.64],
  [20.5, 0.64], [20.8, 0.64], [21.1, 0.64], [21.4, 0.64],
  [19.0, 0.45], [19.4, 0.55], [19.8, 0.4], [20.2, 0.5], [20.6, 0.45], [21.0, 0.55], [21.4, 0.42], [21.8, 0.5],
  [22.2, 0.45], [22.6, 0.55], [23.0, 0.42], [23.4, 0.5], [23.8, 0.45], [19.2, 0.75], [19.6, 0.8], [20.0, 0.72],
  [20.4, 0.85], [20.8, 0.78], [21.2, 0.7], [21.6, 0.82], [22.0, 0.75], [22.4, 0.88], [22.8, 0.72], [23.2, 0.8],
  [23.6, 0.76], [24.0, 0.7], [19.8, 0.95], [20.3, 1.0], [20.7, 1.05], [21.1, 0.95], [21.5, 1.08], [21.9, 1.0],
  [22.3, 1.12], [22.7, 1.02], [23.1, 0.95], [23.5, 1.05], [24.2, 1.0], [20.5, 1.2], [21.0, 1.25], [21.4, 1.18],
  [21.8, 1.28], [22.2, 1.22], [22.6, 1.27], [23.0, 1.18], [20.1, 1.15], [18.6, 0.9], [18.3, 1.05], [24.6, 0.85],
  [24.3, 1.25], [24.9, 0.55], [18.9, 0.52], [21.3, 0.88], [22.5, 0.62], [23.3, 0.62], [21.7, 0.38], [20.0, 0.58],
  [19.4, 0.9], [19.9, 0.85], [20.6, 0.92], [21.3, 1.02], [21.7, 0.92], [22.1, 0.98], [22.5, 0.95], [22.9, 0.88],
  [23.3, 0.92], [20.2, 0.62], [21.7, 0.62], [22.8, 0.55], [20.9, 1.15], [21.6, 1.15], [22.9, 1.25], [23.7, 1.2],
  [19.6, 1.05], [24.4, 0.6], [21.4, 0.78], [20.4, 0.4], [22.4, 0.38], [23.5, 0.62],
];

const xTicks6 = [-30, -27.5, -25, -22.5, -20, -17.5, -15, -12.5, -10, -7.5, -5, -2.5, 0, 2.5, 5, 7.5, 10, 12.5, 15, 17.5, 20, 22.5, 25, 27.5];
const xTicks48 = [-27.5, -25, -22.5, -20, -17.5, -15, -12.5, -10, -7.5, -5, -2.5, 0, 2.5, 5, 7.5, 10, 12.5, 15, 17.5, 20, 22.5, 25, 27.5];
const yTicks6 = [0, 0.5, 1, 1.5, 2, 2.5, 3, 3.5, 4, 4.5, 5, 5.5, 6, 6.5];
const yTicks48 = [0, 0.5, 1, 1.5, 2, 2.5, 3, 3.5, 4, 4.5, 5, 5.5, 6, 6.5, 7];
const threshold = 1.3;

const GREEN = '#3d9b35';
const ORANGE = '#ff9122';
const SANS = '"Liberation Sans", Arial, sans-serif';
const SERIF = '"Liberation Serif", "Times New Roman", serif';

const rows = (parts: Pt[][]) => parts.flat().map(([x, y]) => ({ x, y }));

const dot = (color: string) => (props: any) => (
  <circle cx={props.cx} cy={props.cy} r={1.4} fill={color} />
);

interface PanelProps {
  left: number;
  xDomain: [number, number];
  yDomain: [number, number];
  xTicks: number[];
  yTicks: number[];
  yAxisWidth: number;
  marginRight: number;
  sig: { x: number; y: number }[];
  ins: { x: number; y: number }[];
}

function Panel({ left, xDomain, yDomain, xTicks, yTicks, yAxisWidth, marginRight, sig, ins }: PanelProps) {
  const tick = { fontSize: 8, fill: '#444', fontFamily: SANS };
  return (
    <div style={{ position: 'absolute', left, top: 0 }}>
      <ScatterChart width={620} height={419} margin={{ top: 105, right: marginRight, bottom: 27, left: 0 }}>
        <CartesianGrid stroke="#ececec" />
        <XAxis
          type="number"
          dataKey="x"
          domain={xDomain}
          ticks={xTicks}
          interval={0}
          allowDataOverflow
          height={16}
          tick={tick}
          tickSize={0}
          tickMargin={2}
          axisLine={{ stroke: '#dcdcdc' }}
          tickFormatter={(v: number) => v.toFixed(1)}
        />
        <YAxis
          type="number"
          dataKey="y"
          domain={yDomain}
          ticks={yTicks}
          interval={0}
          allowDataOverflow
          width={yAxisWidth}
          tick={tick}
          tickSize={0}
          tickMargin={2}
          axisLine={{ stroke: '#dcdcdc' }}
          tickFormatter={(v: number) => v.toFixed(1)}
        />
        <ReferenceLine y={yDomain[1]} stroke="#dcdcdc" />
        <ReferenceLine x={xDomain[1]} stroke="#dcdcdc" />
        <Scatter name="Insignificant" data={ins} shape={dot(ORANGE)} isAnimationActive={false} />
        <Scatter name="Significant" data={sig} shape={dot(GREEN)} isAnimationActive={false} />
        <ReferenceLine y={threshold} stroke="#f29a9a" strokeWidth={1.2} />
        <ReferenceLine x={0} stroke="#9c9c9c" strokeWidth={1.2} />
      </ScatterChart>
    </div>
  );
}

function Legend({ left }: { left: number }) {
  return (
    <div
      style={{
        position: 'absolute', left, top: 404, height: 12, border: '1px solid #c4c4c4',
        fontFamily: SANS, fontSize: 9.5, lineHeight: '12px', color: '#222', padding: '0 2px', whiteSpace: 'nowrap',
      }}
    >
      <span style={{ color: GREEN, fontWeight: 'bold' }}>·</span> Significant{' '}
      <span style={{ color: ORANGE, fontWeight: 'bold' }}>·</span> Insignificant{' '}
      <span style={{ color: '#f07070' }}>–</span>Significance Threshold{' '}
      <span style={{ color: '#888' }}>–</span>Zero Fold Change
    </div>
  );
}

function Titles({ center, title }: { center: number; title: string }) {
  return (
    <>
      <div style={{ position: 'absolute', left: center - 300, width: 600, top: 12, textAlign: 'center', fontFamily: SERIF, fontSize: 30, lineHeight: '30px', color: '#000' }}>
        {title}
      </div>
      <div style={{ position: 'absolute', left: center - 300, width: 600, top: 51, textAlign: 'center', fontFamily: SERIF, fontStyle: 'italic', fontSize: 26, lineHeight: '26px', color: '#000' }}>
        t-test, P&lt;0.05 (Treated vs control)
      </div>
    </>
  );
}

function AxisTitles({ yLeft, xCenter, xLabel }: { yLeft: number; xCenter: number; xLabel: string }) {
  return (
    <>
      <div
        style={{
          position: 'absolute', left: yLeft - 60, top: 228, width: 120, textAlign: 'center',
          transform: 'rotate(-90deg)', fontFamily: SANS, fontSize: 11, lineHeight: '12px', color: '#222',
        }}
      >
        -Log10 p-value
      </div>
      <div
        style={{
          position: 'absolute', left: xCenter - 150, width: 300, top: 386, textAlign: 'center',
          fontFamily: SANS, fontSize: 9.5, lineHeight: '12px', color: '#222',
        }}
      >
        {xLabel}
      </div>
    </>
  );
}

export default function App() {
  const sig6 = rows([sig6Neg, sig6Core, sig6Pos, sig6High]);
  const ins6 = rows([ins6Neg, ins6Env, ins6CoreNeg, ins6Dense, ins6CorePos, ins6High]);
  const sig48 = rows([sig48Neg, sig48Core, sig48Pos, sig48High]);
  const ins48 = rows([ins48Neg, ins48Env, ins48CoreNeg, ins48Dense, ins48CorePos, ins48High]);

  return (
    <div style={{ position: 'absolute', left: 0, top: 0, width: 1245, height: 419, background: '#fff', overflow: 'hidden' }}>
      <Titles center={330} title="6hpt" />
      <Titles center={951} title="48hpt" />
      <Panel
        left={0}
        xDomain={[-30, 29.6]}
        yDomain={[0, 6.5]}
        xTicks={xTicks6}
        yTicks={yTicks6}
        yAxisWidth={33}
        marginRight={11}
        sig={sig6}
        ins={ins6}
      />
      <Panel
        left={625}
        xDomain={[-28.9, 28.1]}
        yDomain={[0, 7.27]}
        xTicks={xTicks48}
        yTicks={yTicks48}
        yAxisWidth={35}
        marginRight={1}
        sig={sig48}
        ins={ins48}
      />
      <AxisTitles yLeft={12} xCenter={321} xLabel="Log2(Fold Change (6_B_leaves/6_A_leaves))" />
      <AxisTitles yLeft={640} xCenter={953} xLabel="Log2(Fold Change (48_A_leaves/48_B_leaves))" />
      <Legend left={163} />
      <Legend left={797} />
    </div>
  );
}
